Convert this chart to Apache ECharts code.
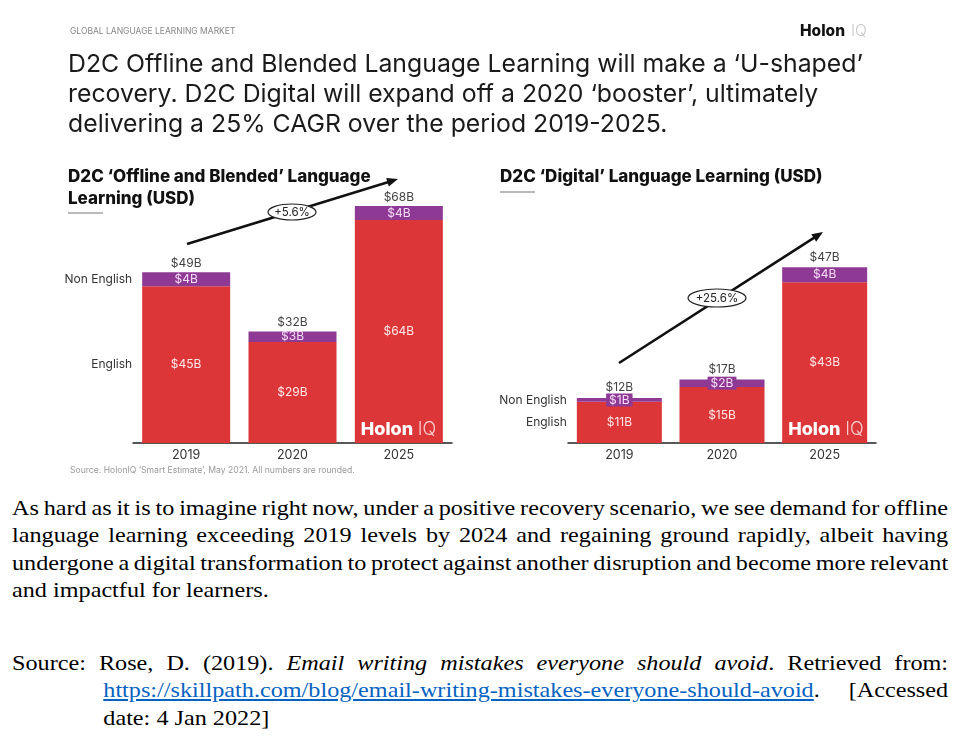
<!DOCTYPE html>
<html>
<head>
<meta charset="utf-8">
<script src="https://cdn.jsdelivr.net/npm/echarts@6/dist/echarts.min.js"></script>
<style>
  html, body { margin:0; padding:0; background:#fff; width:972px; height:738px; overflow:hidden; }
  #chart { position:absolute; left:0; top:0; width:972px; height:480px; }
  .doc { position:absolute; font-family:"Liberation Serif","Times New Roman",serif; font-size:22px; color:#000; line-height:27.3px; width:851px; transform:scaleX(1.1); transform-origin:left top; }
  .ln { text-align:justify; text-align-last:justify; white-space:nowrap; word-spacing:-3px; }
  .last { text-align:left; text-align-last:left; word-spacing:0; }
  a { color:#0563C1; text-decoration:underline; }
</style>
</head>
<body>
<div id="chart"></div>
<div class="doc" style="left:12px; top:494px;">
  <div class="ln">As hard as it is to imagine right now, under a positive recovery scenario, we see demand for offline</div>
  <div class="ln">language learning exceeding 2019 levels by 2024 and regaining ground rapidly, albeit having</div>
  <div class="ln">undergone a digital transformation to protect against another disruption and become more relevant</div>
  <div class="ln last">and impactful for learners.</div>
</div>
<div class="doc" style="left:12px; top:649px;">
  <div class="ln">Source: Rose, D. (2019). <i>Email writing mistakes everyone should avoid</i>. Retrieved from:</div>
  <div class="ln" style="margin-left:83px;"><a>https://skillpath.com/blog/email-writing-mistakes-everyone-should-avoid</a>. [Accessed</div>
  <div class="ln last" style="margin-left:83px;">date: 4 Jan 2022]</div>
</div>
<script>
// ---- data ----
var years = ['2019', '2020', '2025'];
var offlineEnglish = [45, 29, 64];
var offlineNonEnglish = [4, 3, 4];
var offlineTotal = [49, 32, 68];
var digitalEnglish = [11, 15, 43];
var digitalNonEnglish = [1, 2, 4];
var digitalTotal = [12, 17, 47];
var offlineCagr = '+5.6%';
var digitalCagr = '+25.6%';

var RED = '#DC3638';
var PURPLE = '#8E3A95';
var FONT = 'Inter, "Noto Sans", sans-serif';

var chart = echarts.init(document.getElementById('chart'), null, { renderer: 'canvas' });

function money(v) { return '$' + v + 'B'; }

function makeSeries(idx, eng, non, tot, bw, boxed, totDist) {
  return [
    {
      type: 'bar', xAxisIndex: idx, yAxisIndex: idx, stack: 's' + idx, barWidth: bw, barGap: '-100%',
      data: eng, itemStyle: { color: RED },
      label: { show: true, position: 'inside', color: '#fde8e8', fontFamily: FONT, fontSize: 12,
        formatter: function (p) { return money(p.value); } },
      silent: true
    },
    {
      type: 'bar', xAxisIndex: idx, yAxisIndex: idx, stack: 's' + idx, barWidth: bw, barGap: '-100%',
      data: non, itemStyle: { color: PURPLE },
      label: boxed ? { show: true, position: 'inside', color: '#f6dcf6', fontFamily: FONT, fontSize: 12,
        backgroundColor: PURPLE, padding: [1, 3, 0, 3], formatter: function (p) { return money(p.value); } }
        : { show: true, position: 'inside', color: '#f6dcf6', fontFamily: FONT, fontSize: 12,
        formatter: function (p) { return money(p.value); } },
      silent: true
    },
    {
      type: 'bar', xAxisIndex: idx, yAxisIndex: idx, barWidth: bw, barGap: '-100%', z: 1,
      data: tot.map(function (v, i) { return { value: v, label: { distance: totDist[i] } }; }),
      itemStyle: { color: 'rgba(0,0,0,0)' },
      label: { show: true, position: 'top', color: '#444', fontFamily: FONT, fontSize: 12,
        formatter: function (p) { return money(p.value); } },
      silent: true
    }
  ];
}

var xAxisCommon = {
  type: 'category', data: years,
  axisLine: { lineStyle: { color: '#222', width: 1.5 } },
  axisTick: { show: false },
  axisLabel: { color: '#333', fontFamily: FONT, fontSize: 12.5, margin: 6 }
};

chart.setOption({
  animation: false,
  backgroundColor: '#fff',
  grid: [
    { left: 133, width: 319, top: 199, height: 244 },
    { left: 568, width: 308, top: 256, height: 187 }
  ],
  xAxis: [
    Object.assign({ gridIndex: 0 }, xAxisCommon),
    Object.assign({ gridIndex: 1 }, xAxisCommon)
  ],
  yAxis: [
    { gridIndex: 0, type: 'value', min: 0, max: 70, show: false, splitLine: { show: false } },
    { gridIndex: 1, type: 'value', min: 0, max: 50, show: false, splitLine: { show: false } }
  ],
  series: [].concat(
    makeSeries(0, offlineEnglish, offlineNonEnglish, offlineTotal, 88, false, [3, 3, 3]),
    makeSeries(1, digitalEnglish, digitalNonEnglish, digitalTotal, 85, true, [5, 4, 4])
  )
});

function px(idx, x, y) { return chart.convertToPixel({ xAxisIndex: idx, yAxisIndex: idx }, [x, y]); }

function txt(x, y, text, size, weight, fill, align, vAlign) {
  return { type: 'text', x: x, y: y, silent: true, z: 100,
    style: { text: text, fontFamily: FONT, fontSize: size, fontWeight: weight || 'normal', fill: fill || '#222',
      align: align || 'left', verticalAlign: vAlign || 'middle' } };
}

function arrow(x1, y1, x2, y2) {
  var dx = x2 - x1, dy = y2 - y1, L = Math.sqrt(dx * dx + dy * dy);
  var ux = dx / L, uy = dy / L, nx = -uy, ny = ux;
  var hl = 11, hw = 4.5;
  var bx = x2 - ux * hl, by = y2 - uy * hl;
  return [
    { type: 'line', silent: true, z: 90, shape: { x1: x1, y1: y1, x2: bx + ux * 2, y2: by + uy * 2 },
      style: { stroke: '#111', lineWidth: 2.6 } },
    { type: 'polygon', silent: true, z: 90, shape: { points: [[x2, y2], [bx + nx * hw, by + ny * hw], [bx - nx * hw, by - ny * hw]] },
      style: { fill: '#111' } }
  ];
}

function ellipseLabel(cx, cy, rx, ry, text) {
  return [
    { type: 'ellipse', silent: true, z: 95, shape: { cx: cx, cy: cy, rx: rx, ry: ry },
      style: { fill: '#fff', stroke: '#222', lineWidth: 1.2 } },
    Object.assign(txt(cx, cy + 0.5, text, 11.5, 'normal', '#222', 'center'), { z: 100 })
  ];
}

function sideLabels(idx, eng, non, bw) {
  var p1 = px(idx, 0, eng[0] + non[0] / 2);
  var p2 = px(idx, 0, eng[0] / 2);
  var left = p1[0] - bw / 2 - 10;
  return [
    txt(left, p1[1], 'Non English', 12, 'normal', '#333', 'right'),
    txt(left, p2[1], 'English', 12, 'normal', '#333', 'right')
  ];
}

function logo(idx, bw) {
  var p = px(idx, 2, 0);
  var x0 = p[0] - bw / 2 + 6;
  var y = p[1] - 13;
  return [
    txt(x0, y, 'Holon', 18, 800, '#fff', 'left'),
    txt(x0 + 57, y, 'IQ', 18, 300, 'rgba(255,255,255,0.75)', 'left')
  ];
}

var g = [];
// header
g.push(txt(70, 31, 'GLOBAL LANGUAGE LEARNING MARKET', 8.5, 'normal', '#888'));
g.push(txt(800, 31, 'Holon', 15.5, 800, '#111'));
g.push(txt(851, 31, 'IQ', 15.5, 300, '#c8c8c8'));
g.push(txt(68, 65, 'D2C Offline and Blended Language Learning will make a \u2018U-shaped\u2019', 24.8, 'normal', '#1a1a1a'));
g.push(txt(68, 95, 'recovery. D2C Digital will expand off a 2020 \u2018booster\u2019, ultimately', 24.8, 'normal', '#1a1a1a'));
g.push(txt(68, 125, 'delivering a 25% CAGR over the period 2019-2025.', 24.8, 'normal', '#1a1a1a'));
// chart titles
g.push(txt(68, 177, 'D2C \u2018Offline and Blended\u2019 Language', 17, 800, '#111'));
g.push(txt(68, 199, 'Learning (USD)', 17, 800, '#111'));
g.push({ type: 'line', silent: true, shape: { x1: 68, y1: 213, x2: 103, y2: 213 }, style: { stroke: '#777', lineWidth: 1.2 } });
g.push(txt(500, 177, 'D2C \u2018Digital\u2019 Language Learning (USD)', 17, 800, '#111'));
g.push({ type: 'line', silent: true, shape: { x1: 500, y1: 192, x2: 535, y2: 192 }, style: { stroke: '#777', lineWidth: 1.2 } });
// arrows & CAGR
g = g.concat(arrow(187, 244, 398, 179));
g = g.concat(ellipseLabel(292, 212, 24, 8, offlineCagr));
g = g.concat(arrow(619, 363, 823, 232));
g = g.concat(ellipseLabel(717, 298, 29, 9, digitalCagr));
// side labels
g = g.concat(sideLabels(0, offlineEnglish, offlineNonEnglish, 88));
g = g.concat(sideLabels(1, digitalEnglish, digitalNonEnglish, 85));
// logos
g = g.concat(logo(0, 88));
g = g.concat(logo(1, 85));
// source
g.push(txt(70, 470, 'Source. HolonIQ \u2018Smart Estimate\u2019, May 2021. All numbers are rounded.', 8.6, 'normal', '#999'));

chart.setOption({ graphic: g });
</script>
</body>
</html>
